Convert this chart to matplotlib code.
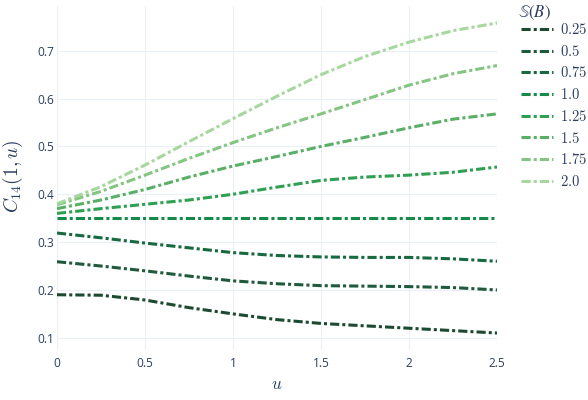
import numpy as np
import matplotlib
matplotlib.use('Agg')
import matplotlib.pyplot as plt

plt.rcParams['font.family'] = ['Open Sans', 'DejaVu Sans']
plt.rcParams['mathtext.fontset'] = 'cm'

# data
u_vals = [0, 0.25, 0.5, 0.75, 1.0, 1.25, 1.5, 1.75, 2.0, 2.25, 2.5]
s_labels = ['0.25', '0.5', '0.75', '1.0', '1.25', '1.5', '1.75', '2.0']
c14_025 = [0.19, 0.189, 0.179, 0.163, 0.15, 0.138, 0.13, 0.125, 0.12, 0.115, 0.11]
c14_050 = [0.259, 0.25, 0.24, 0.229, 0.219, 0.213, 0.209, 0.208, 0.207, 0.205, 0.2]
c14_075 = [0.319, 0.309, 0.298, 0.288, 0.278, 0.272, 0.269, 0.268, 0.268, 0.265, 0.26]
c14_100 = [0.35, 0.35, 0.35, 0.35, 0.35, 0.35, 0.35, 0.35, 0.35, 0.35, 0.35]
c14_125 = [0.36, 0.37, 0.379, 0.388, 0.40, 0.415, 0.429, 0.436, 0.44, 0.446, 0.457]
c14_150 = [0.37, 0.388, 0.41, 0.436, 0.459, 0.479, 0.50, 0.519, 0.539, 0.557, 0.568]
c14_175 = [0.378, 0.406, 0.44, 0.475, 0.508, 0.539, 0.568, 0.598, 0.628, 0.652, 0.669]
c14_200 = [0.38, 0.416, 0.461, 0.51, 0.558, 0.605, 0.65, 0.688, 0.718, 0.742, 0.758]
series = [c14_025, c14_050, c14_075, c14_100, c14_125, c14_150, c14_175, c14_200]

colors = ['#1c4a31', '#1f5a3c', '#17693f', '#168a48', '#2f9f52', '#5aaf66',
          '#84c581', '#a6d89d']
text_col = '#2a3f5f'
grid_col = '#ebf0f8'

fig = plt.figure(figsize=(5.88, 4.0), dpi=100)
ax = fig.add_axes([57/588, 50/400, 440/588, 344/400])

for ys, lab, col in zip(series, s_labels, colors):
    ax.plot(u_vals, ys, color=col, lw=2.2, dashes=(3, 1, 1, 1),
            label='$' + lab + '$')

ax.set_xlim(0, 2.5)
ax.set_ylim(0.0745, 0.7935)
ax.set_xticks([0, 0.5, 1, 1.5, 2, 2.5])
ax.set_xticklabels(['0', '0.5', '1', '1.5', '2', '2.5'])
ax.set_yticks([0.1, 0.2, 0.3, 0.4, 0.5, 0.6, 0.7])
ax.set_yticklabels(['0.1', '0.2', '0.3', '0.4', '0.5', '0.6', '0.7'])
ax.tick_params(length=0, labelsize=8.6, labelcolor=text_col)
ax.tick_params(axis='x', pad=5)
ax.tick_params(axis='y', pad=2)
ax.grid(True, color=grid_col, lw=0.8)
ax.set_axisbelow(True)
ax.axvline(0, color=grid_col, lw=1.6, zorder=0)
for sp in ax.spines.values():
    sp.set_visible(False)

fig.text(277/588, 1 - 385/400, r'$u$', ha='center', va='center',
         fontsize=12.5, color=text_col)
fig.text(13/588, 1 - 176/400, r'$C_{14}(1, u)$', ha='center', va='center',
         rotation=90, fontsize=14, color=text_col)

# legend title drawn separately so the rows can sit where the reference has them
fig.text(518/588, 1 - 13/400, r'$\mathbb{S}(B)$', ha='left', va='center',
         fontsize=12, color=text_col, math_fontfamily='stix')
leg = ax.legend(loc='upper left', bbox_to_anchor=(521/588, 1 - 23/400),
                bbox_transform=fig.transFigure, frameon=False,
                fontsize=10.5, handlelength=2.2, handletextpad=0.45,
                labelspacing=0.46, borderaxespad=0, borderpad=0)
for t in leg.get_texts():
    t.set_color(text_col)

fig.savefig('out.png', dpi=100)
